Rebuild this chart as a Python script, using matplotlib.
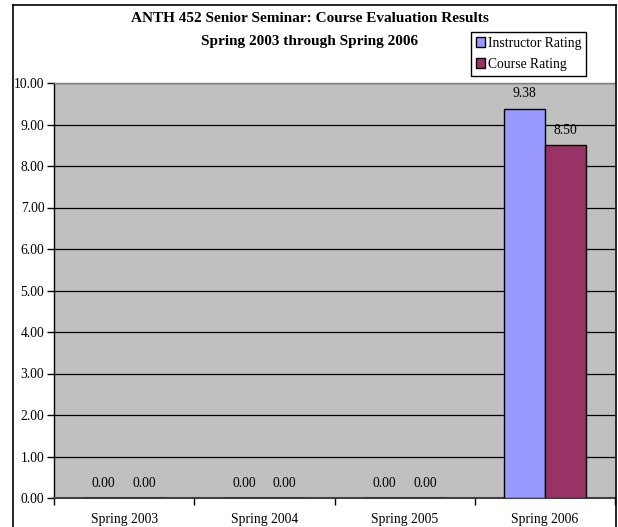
import matplotlib
matplotlib.use("Agg")
import matplotlib.pyplot as plt
from matplotlib.lines import Line2D
import numpy as np

categories = ["Spring 2003", "Spring 2004", "Spring 2005", "Spring 2006"]
instructor = [0.00, 0.00, 0.00, 9.38]
course = [0.00, 0.00, 0.00, 8.50]
series_names = ["Instructor Rating", "Course Rating"]
yticks = [0, 1, 2, 3, 4, 5, 6, 7, 8, 9, 10]

plt.rcParams['font.family'] = ['Liberation Serif', 'DejaVu Serif']

W, H = 618, 527
FS = 9.8
fig = plt.figure(figsize=(W / 100, H / 100), dpi=100)
ax = fig.add_axes([54 / W, 1 - 498 / H, (615 - 54) / W, (498 - 83) / H])
ax.set_facecolor('#C0C0C0')

x = np.arange(len(categories))
bw = 0.29
b1 = ax.bar(x - bw / 2, instructor, bw, color='#9999FF', edgecolor='black', linewidth=1.0, label=series_names[0], zorder=3)
b2 = ax.bar(x + bw / 2, course, bw, color='#993366', edgecolor='black', linewidth=1.0, label=series_names[1], zorder=3)
for bars in (b1, b2):
    ax.bar_label(bars, fmt='%.2f', padding=6, fontsize=FS)

ax.set_xlim(-0.5, len(categories) - 0.5)
ax.set_ylim(0, 10)
ax.set_yticks(yticks)
ax.set_yticklabels([f"{v:.2f}" for v in yticks], fontsize=FS)
ax.yaxis.grid(True, color='black', linewidth=0.9, zorder=1)
ax.set_axisbelow(True)

ax.set_xticks(x)
ax.set_xticklabels(categories, fontsize=FS)
ax.tick_params(axis='x', which='major', length=0, pad=11)
ax.set_xticks(np.arange(-0.5, len(categories) + 0.5, 1), minor=True)
ax.tick_params(axis='x', which='minor', length=5, width=1, color='black', direction='out')
ax.tick_params(axis='y', length=5, width=1, color='black', direction='out', pad=2)

ax.spines['left'].set_color('black')
ax.spines['left'].set_linewidth(1)
ax.spines['bottom'].set_color('#404040')
ax.spines['bottom'].set_linewidth(1.5)
ax.spines['top'].set_color('#808080')
ax.spines['top'].set_linewidth(1)
ax.spines['right'].set_visible(False)

fig.text(310 / W, 1 - 19 / H, "ANTH 452 Senior Seminar: Course Evaluation Results",
         ha='center', va='center', fontsize=11, fontweight='bold')
fig.text(310 / W, 1 - 42 / H, "Spring 2003 through Spring 2006",
         ha='center', va='center', fontsize=11, fontweight='bold')

leg = fig.legend(handles=[b1, b2], labels=series_names, loc='upper left',
                 bbox_to_anchor=(471 / W, 1 - 32 / H), fontsize=FS, frameon=True,
                 fancybox=False, edgecolor='black', framealpha=1,
                 handlelength=0.7, handleheight=0.7, handletextpad=0.2,
                 borderpad=0.35, labelspacing=0.6, borderaxespad=0)
leg.get_frame().set_linewidth(1)

# outer chart border
fx0, fx1 = 12.5 / W, 615.5 / W
fy1 = 1 - 5 / H
for xs, ys in [([fx0, fx0], [-0.05, fy1]), ([fx0, fx1], [fy1, fy1]), ([fx1, fx1], [fy1, -0.05])]:
    fig.add_artist(Line2D(xs, ys, transform=fig.transFigure, color='black', linewidth=1.2))

fig.savefig("out.png", dpi=100)
